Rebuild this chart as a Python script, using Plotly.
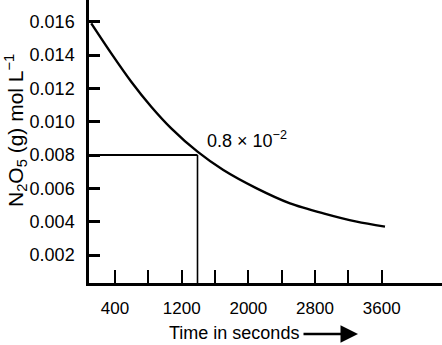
import plotly.graph_objects as go

# Curve data
time_s = [115, 355, 595, 835, 1075, 1390, 1700, 2100, 2500, 2900, 3300, 3640]
conc = [0.0159, 0.0141, 0.0124, 0.0109, 0.0096, 0.0082, 0.0071, 0.0060, 0.0051, 0.0045,
        0.0040, 0.0037]

# Marked point
mark_t = 1390
mark_c = 0.008

x_tickvals = [400, 800, 1200, 1600, 2000, 2400, 2800, 3200, 3600]
x_ticktext = ["400", "", "1200", "", "2000", "", "2800", "", "3600"]
y_tickvals = [0.002, 0.004, 0.006, 0.008, 0.010, 0.012, 0.014, 0.016]
y_ticktext = ["0.002", "0.004", "0.006", "0.008", "0.010", "0.012", "0.014", "0.016"]

x_range = [88, 4324]
y_range = [0.00032, 0.0173]

W, H = 442, 345
L, R, T, B = 89, 0, 0, 62
pw, ph = W - L - R, H - T - B

def px(x):
    return (x - L) / pw

def py(y):
    return (H - B - y) / ph

FONT = "Liberation Sans, Arial, sans-serif"

fig = go.Figure()
fig.add_trace(go.Scatter(x=time_s, y=conc, mode="lines",
                         line=dict(color="black", width=2.4, shape="spline", smoothing=0.8),
                         hoverinfo="skip", showlegend=False))
fig.add_trace(go.Scatter(x=[x_range[0], mark_t], y=[mark_c, mark_c], mode="lines",
                         line=dict(color="black", width=2), showlegend=False))
fig.add_trace(go.Scatter(x=[mark_t, mark_t], y=[mark_c, y_range[0]], mode="lines",
                         line=dict(color="black", width=1.6), showlegend=False))

fig.update_layout(
    width=W, height=H,
    margin=dict(l=L, r=R, t=T, b=B, pad=0),
    plot_bgcolor="white", paper_bgcolor="white",
    font=dict(family=FONT, color="black", size=18),
    showlegend=False,
    xaxis=dict(range=x_range, tickvals=x_tickvals, ticktext=x_ticktext,
               ticks="inside", ticklen=13, tickwidth=1.6, tickcolor="black",
               showline=True, linecolor="black", linewidth=2.5,
               showgrid=False, zeroline=False, ticklabelstandoff=8,
               tickfont=dict(size=17, family=FONT)),
    yaxis=dict(range=y_range, tickvals=y_tickvals, ticktext=y_ticktext,
               ticks="inside", ticklen=11, tickwidth=2.5, tickcolor="black",
               showline=True, linecolor="black", linewidth=2.5,
               showgrid=False, zeroline=False, ticklabelstandoff=8,
               tickfont=dict(size=18, family=FONT)),
    annotations=[
        dict(text="N<sub>2</sub>O<sub>5</sub> (g) mol L<sup>−1</sup>",
             xref="paper", yref="paper", x=px(15), y=py(131),
             xanchor="center", yanchor="middle", textangle=-90,
             showarrow=False, font=dict(size=21, family=FONT)),
        dict(text="Time in seconds", xref="paper", yref="paper",
             x=px(167), y=py(333), xanchor="left", yanchor="middle",
             showarrow=False, font=dict(size=18, family=FONT)),
        dict(text="", xref="paper", yref="paper", x=px(358), y=py(334),
             ax=-56, ay=0, showarrow=True, arrowhead=2, arrowsize=1.4,
             arrowwidth=2.5, arrowcolor="black"),
        dict(text="0.8 × 10<sup>−2</sup>", xref="paper", yref="paper",
             x=px(205), y=py(153), xanchor="left", yanchor="bottom",
             showarrow=False, font=dict(size=18, family=FONT)),
    ],
)

fig.write_html("out.html")
